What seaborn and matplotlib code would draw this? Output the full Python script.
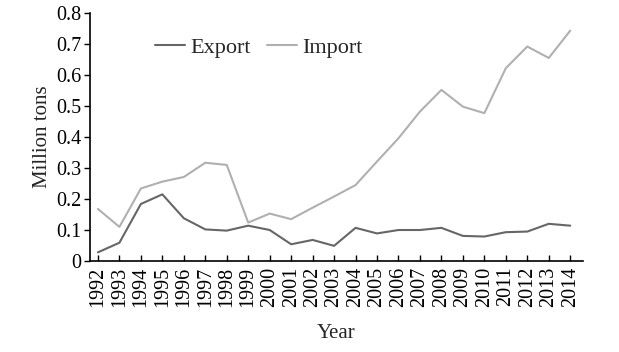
import pandas as pd
import numpy as np
import matplotlib.pyplot as plt
import seaborn as sns

years = list(range(1992, 2015))
export = [0.028, 0.059, 0.184, 0.215, 0.138, 0.102, 0.098, 0.114, 0.100, 0.054, 0.068, 0.049,
          0.107, 0.089, 0.100, 0.100, 0.107, 0.081, 0.079, 0.093, 0.095, 0.120, 0.114]
imports = [0.168, 0.110, 0.234, 0.256, 0.271, 0.317, 0.310, 0.124, 0.153, 0.135, 0.172, 0.208,
           0.245, 0.321, 0.396, 0.482, 0.552, 0.498, 0.477, 0.622, 0.692, 0.655, 0.743]

df = pd.DataFrame({'Year': years, 'Export': export, 'Import': imports})
long = df.melt(id_vars='Year', var_name='kind', value_name='val')

sns.set_style('ticks')
plt.rcParams['font.family'] = ['Liberation Serif', 'DejaVu Serif']

fig = plt.figure(figsize=(6.19, 3.52), dpi=100)
ax = fig.add_axes([0.1454, 0.2585, 0.7966, 0.7045])

sns.lineplot(data=long, x='Year', y='val', hue='kind',
             palette={'Export': '#666666', 'Import': '#b0b0b0'}, linewidth=1.5, ax=ax)

ax.set_xlim(1991.63, 2014.6)
ax.set_ylim(0, 0.8)
ax.set_xticks(years)
ax.set_xticklabels([str(y) for y in years], rotation=90, fontsize=14.5)
ax.set_yticks(np.arange(0, 0.81, 0.1))
ax.set_yticklabels(['0'] + ['%.1f' % v for v in np.arange(0.1, 0.81, 0.1)], fontsize=14.5)
ax.tick_params(axis='x', direction='in', length=4, width=1, pad=4, colors='black')
ax.tick_params(axis='y', direction='out', length=4, width=1, pad=2, colors='black')
ax.set_xlabel('Year', fontsize=15, labelpad=12)
ax.set_ylabel('Million tons', fontsize=15, labelpad=3)
for s in ['left', 'bottom']:
    ax.spines[s].set_color('black')
    ax.spines[s].set_linewidth(1.2)
sns.despine(ax=ax)

ax.legend(loc='center left', bbox_to_anchor=(0.132, 0.861), ncol=2, frameon=False,
          fontsize=16, handlelength=1.35, handletextpad=0.25, columnspacing=0.7,
          borderaxespad=0, borderpad=0)

fig.savefig('out.png', dpi=100)
